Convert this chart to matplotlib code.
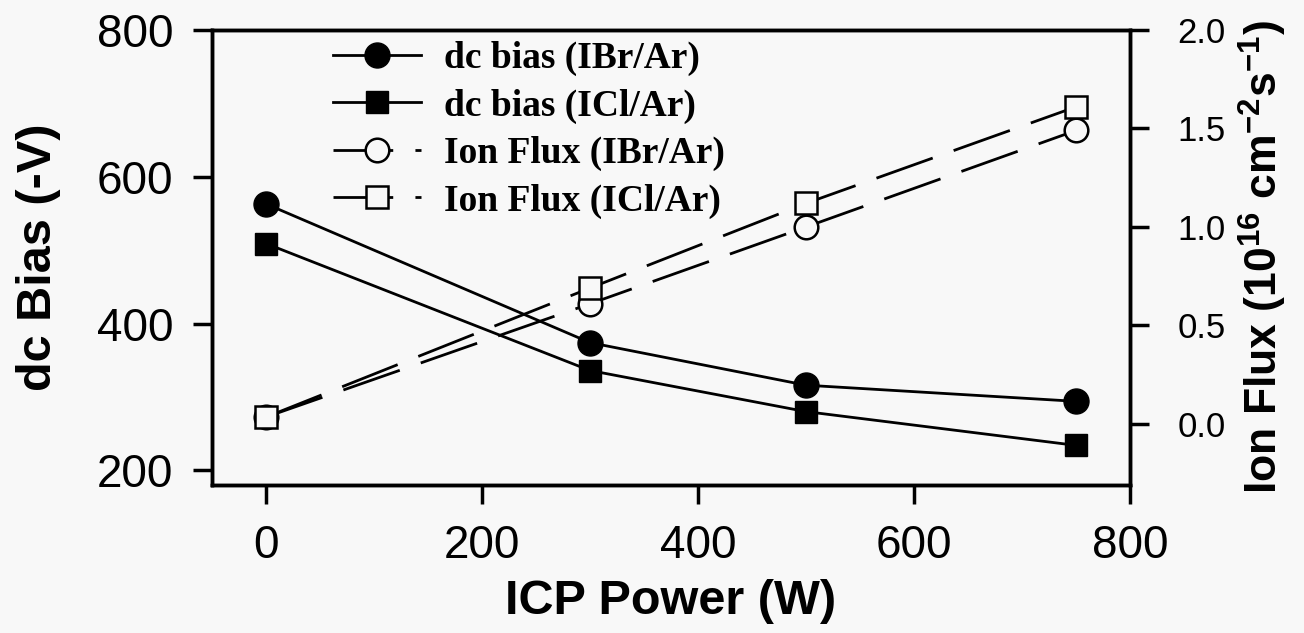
import matplotlib
matplotlib.use('Agg')
import matplotlib.pyplot as plt

# ICP power (W)
power = [0, 300, 500, 750]

# dc bias (-V), left axis
bias_ibr = [563, 374, 316, 294]
bias_icl = [509, 336, 280, 234]

# ion flux (1e16 cm^-2 s^-1), right axis
flux_ibr = [0.035, 0.61, 1.00, 1.49]
flux_icl = [0.035, 0.69, 1.12, 1.61]

plt.rcParams['font.family'] = 'Liberation Sans'
plt.rcParams['mathtext.fontset'] = 'custom'
plt.rcParams['mathtext.rm'] = 'Liberation Sans:bold'
plt.rcParams['mathtext.bf'] = 'Liberation Sans:bold'
plt.rcParams['mathtext.default'] = 'bf'

bg = '#f8f8f8'
fig = plt.figure(figsize=(13.04, 6.33), dpi=100, facecolor=bg)
ax = fig.add_axes([0.1626, 0.2338, 0.8666 - 0.1626, 0.9526 - 0.2338])
ax.set_facecolor(bg)
ax2 = ax.twinx()

# dc bias lines
l1, = ax.plot(power, bias_ibr, color='black', lw=2, marker='o', ms=18,
              mfc='black', mec='black', label='dc bias (IBr/Ar)', zorder=3)
l2, = ax.plot(power, bias_icl, color='black', lw=2, marker='s', ms=16,
              mfc='black', mec='black', label='dc bias (ICl/Ar)', zorder=3)

# ion flux lines (dashed)
dash = (0, (21.5, 8))
l3, = ax2.plot(power, flux_ibr, color='black', lw=2, ls=dash, marker='o', ms=17,
               mfc=bg, mec='black', mew=1.8, label='Ion Flux (IBr/Ar)')
l4, = ax2.plot(power, flux_icl, color='black', lw=2, ls=dash, marker='s', ms=16,
               mfc=bg, mec='black', mew=1.8, label='Ion Flux (ICl/Ar)')

ax.set_xlim(-50, 800)
ax.set_ylim(180, 800)
ax2.set_ylim(-0.31, 2.0)
ax.set_xticks([0, 200, 400, 600, 800])
ax.set_yticks([200, 400, 600, 800])
ax2.set_yticks([0.0, 0.5, 1.0, 1.5, 2.0])
ax2.set_yticklabels(['0.0', '0.5', '1.0', '1.5', '2.0'])

for a in (ax, ax2):
    for s in a.spines.values():
        s.set_linewidth(2.5)
ax.tick_params(axis='both', direction='out', length=14, width=2.5, labelsize=33, pad=14)
ax2.tick_params(axis='y', direction='out', length=14, width=2.5, labelsize=25, pad=20)

ax.set_xlabel('ICP Power (W)', fontsize=35, fontweight='bold', labelpad=8)
ax.set_ylabel('dc Bias (-V)', fontsize=35, fontweight='bold', labelpad=26)
ax2.set_ylabel(r'Ion Flux (10$^{16}$ cm$^{-2}$s$^{-1}$)', fontsize=32,
               fontweight='bold', labelpad=8)

leg = ax.legend(handles=[l1, l2, l3, l4], loc='upper left',
                bbox_to_anchor=(333 / 1304, 1 - 41 / 633), bbox_transform=fig.transFigure,
                frameon=False, borderpad=0, borderaxespad=0, handlelength=2.35,
                handletextpad=0.6, labelspacing=0.33,
                prop={'family': 'Liberation Serif', 'weight': 'bold', 'size': 27})
leg.set_zorder(5)

fig.savefig('out.png', dpi=100, facecolor=bg)
